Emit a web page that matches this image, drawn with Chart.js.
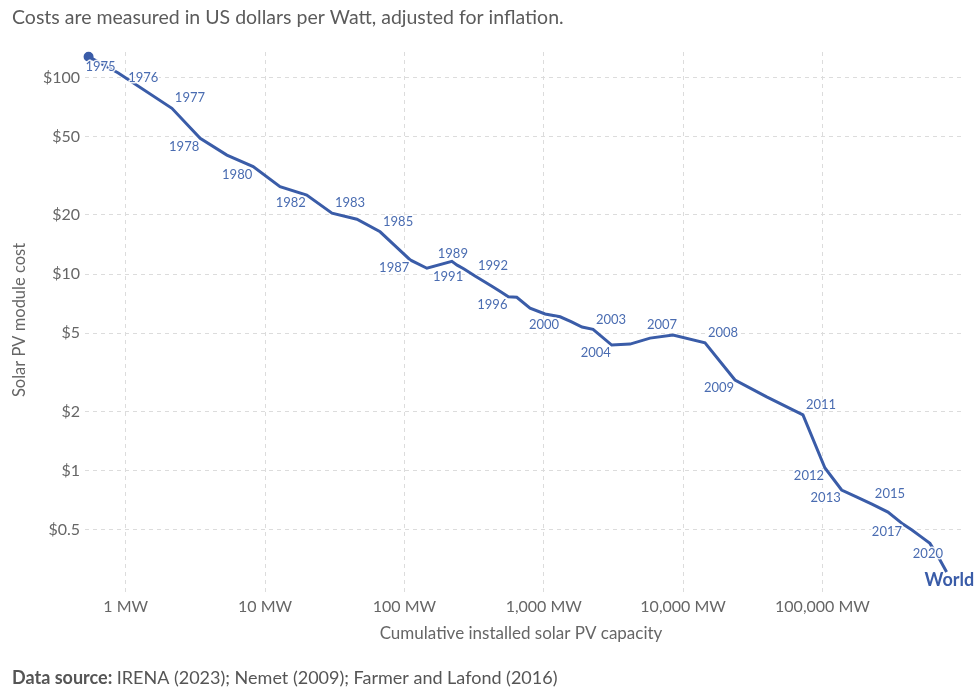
<!DOCTYPE html>
<html>
<head>
<meta charset="utf-8">
<script src="https://cdn.jsdelivr.net/npm/chart.js@4.4.1/dist/chart.umd.min.js"></script>
<style>
  html, body { margin: 0; padding: 0; background: #fff; }
  #wrap { width: 975px; height: 691px; }
</style>
</head>
<body>
<div id="wrap"><canvas id="pvChart" width="975" height="691"></canvas></div>
<script>
// data
const years = [1975, 1976, 1977, 1978, 1979, 1980, 1981, 1982, 1983, 1984, 1985, 1986, 1987, 1988, 1989,
    1990, 1991, 1992, 1993, 1994, 1995, 1996, 1997, 1998, 1999, 2000, 2001, 2002, 2003, 2004,
    2005, 2006, 2007, 2008, 2009, 2010, 2011, 2012, 2013, 2014, 2015, 2016, 2017, 2018, 2019,
    2020, 2021, 2022];
const capacityMW = [0.541, 0.884, 2.145, 3.42, 5.32, 8.21, 12.8, 19.9, 30.2, 45.6, 66.9, 85.8, 110, 145, 219,
    239, 268, 321, 373, 433, 494, 557, 640, 797, 1022, 1309, 1570, 1882, 2258, 3074,
    4160, 5790, 8465, 14360, 23570, 39790, 72450, 104200, 137300, 176800, 226500, 295100, 378000, 438500, 508800,
    590400, 677300, 778000];
const costUSD = [127.6, 105.4, 69.7, 49.0, 40.3, 35.2, 27.8, 25.2, 20.4, 19.0, 16.4, 13.9, 11.8, 10.7, 11.6,
    11.1, 10.6, 9.77, 9.16, 8.59, 8.10, 7.66, 7.61, 6.71, 6.26, 6.06, 5.73, 5.37, 5.23, 4.35,
    4.40, 4.72, 4.89, 4.47, 2.89, 2.37, 1.92, 1.03, 0.796, 0.733, 0.675, 0.615, 0.534, 0.498, 0.461,
    0.426, 0.364, 0.305];
const labelYears = [1975, 1976, 1977, 1978, 1980, 1982, 1983, 1985, 1987, 1989, 1991, 1992, 1996, 2000,
    2003, 2004, 2007, 2008, 2009, 2011, 2012, 2013, 2015, 2017, 2020];
const seriesName = 'World';
const xTicks = [1, 10, 100, 1000, 10000, 100000];
const yTicks = [0.5, 1, 2, 5, 10, 20, 50, 100];

// label placement (a = above right, b = below left, c = explicit offset)
const labelPlace = ['c', 'c', 'a', 'b', 'b', 'b', 'a', 'a', 'b', 'c', 'b', 'a', 'b', 'b',
    'a', 'b', 'c', 'a', 'b', 'a', 'b', 'b', 'a', 'b', 'c'];
const customOffsets = { 1975: [12, 10], 1976: [25, 5], 1989: [1, -8], 2007: [-11, -10], 2020: [-2, 10] };

const lineColor = '#3a5ca8';
const labelColor = '#4a6cb1';
const greyText = '#5b5b5b';

const textPlugin = {
    id: 'owidText',
    afterDatasetsDraw(chart) {
        const ctx = chart.ctx;
        const meta = chart.getDatasetMeta(0);
        ctx.save();
        ctx.font = '13px Lato';
        ctx.textAlign = 'center';
        ctx.textBaseline = 'middle';
        ctx.lineJoin = 'round';
        labelYears.forEach((yr, i) => {
            const pt = meta.data[years.indexOf(yr)];
            let off = [18, -10];
            if (labelPlace[i] === 'b') off = [-16, 8];
            if (labelPlace[i] === 'c') off = customOffsets[yr];
            const x = pt.x + off[0], y = pt.y + off[1];
            ctx.strokeStyle = 'rgba(255,255,255,0.9)';
            ctx.lineWidth = 3;
            ctx.strokeText(String(yr), x, y);
            ctx.fillStyle = labelColor;
            ctx.fillText(String(yr), x, y);
        });
        // series name at the end of the line
        const last = meta.data[meta.data.length - 1];
        ctx.font = 'bold 18px Lato';
        ctx.textAlign = 'left';
        ctx.fillStyle = lineColor;
        ctx.fillText(seriesName, last.x - 22, last.y + 8);
        ctx.restore();
    },
    afterDraw(chart) {
        const ctx = chart.ctx;
        const area = chart.chartArea;
        ctx.save();
        ctx.fillStyle = greyText;
        ctx.textBaseline = 'middle';
        ctx.textAlign = 'left';
        ctx.font = '19.5px Lato';
        ctx.fillText('Costs are measured in US dollars per Watt, adjusted for inflation.', 12, 18);

        // axis titles
        ctx.font = '17px Lato';
        ctx.fillStyle = '#666';
        ctx.textAlign = 'center';
        ctx.fillText('Cumulative installed solar PV capacity', (area.left + area.right) / 2 - 3, 634);
        ctx.font = '16.5px Lato';
        ctx.translate(20, 320);
        ctx.rotate(-Math.PI / 2);
        ctx.fillText('Solar PV module cost', 0, 0);
        ctx.restore();

        // footer
        ctx.save();
        ctx.textBaseline = 'middle';
        ctx.textAlign = 'left';
        ctx.fillStyle = '#555';
        ctx.font = 'bold 18px Lato';
        const lead = 'Data source:';
        ctx.fillText(lead, 12, 678);
        const w = ctx.measureText(lead + ' ').width;
        ctx.font = '18px Lato';
        ctx.fillText('IRENA (2023); Nemet (2009); Farmer and Lafond (2016)', 12 + w, 678);
        ctx.restore();
    }
};

window.onload = function () {
    const points = capacityMW.map((c, i) => ({ x: c, y: costUSD[i] }));
    const tickFont = { family: 'Lato', size: 16 };

    new Chart(document.getElementById('pvChart'), {
        type: 'line',
        data: {
            datasets: [{
                label: seriesName,
                data: points,
                borderColor: lineColor,
                backgroundColor: lineColor,
                borderWidth: 3,
                tension: 0,
                pointRadius: c => (c.dataIndex === 0 ? 3.5 : 0),
                pointHoverRadius: 0,
                clip: false
            }]
        },
        options: {
            responsive: false,
            animation: false,
            devicePixelRatio: 1,
            layout: { padding: { top: 52, right: 12, left: 0, bottom: 0 } },
            plugins: { legend: { display: false }, tooltip: { enabled: false } },
            scales: {
                x: {
                    type: 'logarithmic',
                    min: 0.51,
                    max: 1.02e6,
                    afterBuildTicks: s => { s.ticks = xTicks.map(v => ({ value: v })); },
                    afterFit: s => { s.height = 99; },
                    ticks: {
                        callback: v => Number(v).toLocaleString('en-US') + ' MW',
                        font: tickFont, color: '#666', padding: 5, autoSkip: false, maxRotation: 0
                    },
                    grid: { color: '#dcdcdc', drawTicks: false },
                    border: { display: false, dash: [4, 4] }
                },
                y: {
                    type: 'logarithmic',
                    min: 0.241,
                    max: 134.8,
                    afterBuildTicks: s => { s.ticks = yTicks.map(v => ({ value: v })); },
                    afterFit: s => { s.width = 85; },
                    ticks: {
                        callback: v => '$' + v,
                        font: tickFont, color: '#666', padding: 5, autoSkip: false
                    },
                    grid: { color: '#dcdcdc', drawTicks: false },
                    border: { display: false, dash: [4, 4] }
                }
            }
        },
        plugins: [textPlugin]
    });
};
</script>
</body>
</html>
